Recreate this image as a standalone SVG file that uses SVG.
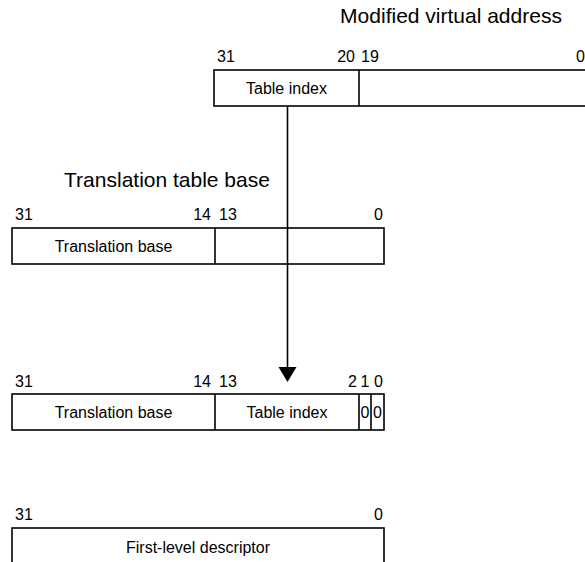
<svg xmlns="http://www.w3.org/2000/svg" width="585" height="562" viewBox="0 0 585 562">
<style>
.box{fill:#fff;stroke:#000;stroke-width:1.6}
.ln{stroke:#000;stroke-width:1.6;fill:none}
text{font-family:"Liberation Sans",Arial,sans-serif;fill:#000}
.t{font-size:21px}
.l{font-size:16px}
.c{font-size:16px;text-anchor:middle}
.e{text-anchor:end}
.m{text-anchor:middle}
</style>
<rect width="585" height="562" fill="#fff"/>
<text class="t m" x="451" y="23">Modified virtual address</text>
<text class="t m" x="167" y="187">Translation table base</text>

<g id="mva">
<rect class="box" x="214" y="70" width="380" height="36"/>
<line class="ln" x1="359" y1="70" x2="359" y2="106"/>
<text class="c" x="286.5" y="94">Table index</text>
<text class="l" x="217" y="62">31</text>
<text class="l e" x="355" y="62">20</text>
<text class="l" x="361" y="62">19</text>
<text class="l e" x="585" y="62">0</text>
</g>

<g id="ttb">
<rect class="box" x="12" y="228" width="372" height="36"/>
<line class="ln" x1="215" y1="228" x2="215" y2="264"/>
<text class="c" x="113.5" y="252">Translation base</text>
<text class="l" x="15" y="220">31</text>
<text class="l e" x="211" y="220">14</text>
<text class="l" x="219" y="220">13</text>
<text class="l e" x="383" y="220">0</text>
</g>

<g id="addr">
<rect class="box" x="12" y="394" width="372" height="36"/>
<line class="ln" x1="215" y1="394" x2="215" y2="430"/>
<line class="ln" x1="359" y1="394" x2="359" y2="430"/>
<line class="ln" x1="371" y1="394" x2="371" y2="430"/>
<text class="c" x="113.5" y="418">Translation base</text>
<text class="c" x="287" y="418">Table index</text>
<text class="c" x="365" y="418">0</text>
<text class="c" x="377.5" y="418">0</text>
<text class="l" x="15" y="387">31</text>
<text class="l e" x="211" y="387">14</text>
<text class="l" x="219" y="387">13</text>
<text class="l e" x="357" y="387">2</text>
<text class="l m" x="365" y="387">1</text>
<text class="l e" x="383" y="387">0</text>
</g>

<g id="desc">
<rect class="box" x="12" y="528" width="372" height="40"/>
<text class="c" x="198" y="553">First-level descriptor</text>
<text class="l" x="15" y="520">31</text>
<text class="l e" x="383" y="520">0</text>
</g>

<g id="connectors">
<line class="ln" x1="287.5" y1="106" x2="287.5" y2="368"/>
<polygon points="278.5,367 296.5,367 287.5,382" fill="#000"/>
</g>
</svg>
